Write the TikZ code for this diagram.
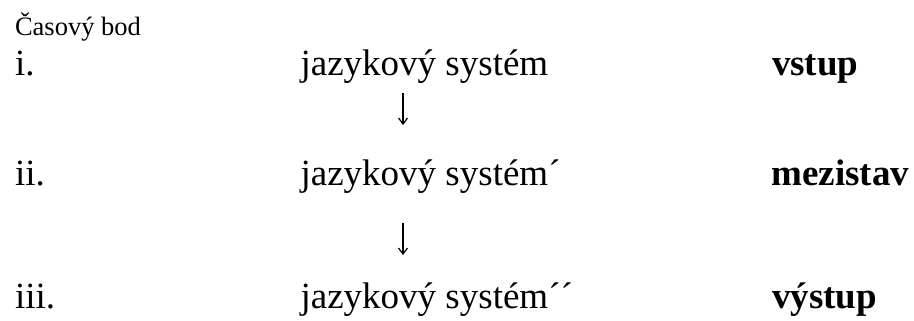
\documentclass[tikz,border=0pt]{standalone}
\usepackage{fontspec}
\setmainfont{Liberation Serif}
\usetikzlibrary{arrows.meta}
\tikzset{
  txt/.style={anchor=base west, inner sep=0pt, outer sep=0pt, font=\fontsize{37bp}{44bp}\selectfont},
  bold/.style={txt, font=\fontsize{37bp}{44bp}\selectfont\bfseries},
  small/.style={anchor=base west, inner sep=0pt, outer sep=0pt, font=\fontsize{26.5bp}{32bp}\selectfont},
  downarrow/.style={line width=1.2bp, -{Straight Barb[length=6bp,width=9bp,line width=1.2bp]}}
}
\begin{document}
\begin{tikzpicture}[x=1bp,y=-1bp]
\useasboundingbox (0,0) rectangle (914,320);
\node[small] (cas) at (15,35) {Časový bod};
\node[txt] (n1) at (15,75) {i.};
\node[txt] (n2) at (15,185) {ii.};
\node[txt] (n3) at (15,308) {iii.};
\node[txt] (s1) at (300.6,75) {jazykový systém};
\node[txt] (s2) at (300.6,185) {jazykový systém´};
\node[txt] (s3) at (300.6,308) {jazykový systém´´};
\node[bold] (b1) at (772,75) {vstup};
\node[bold] (b2) at (771.4,185) {mezistav};
\node[bold] (b3) at (772,308) {výstup};
\coordinate (a1s) at (403,93);
\coordinate (a1e) at (403,125);
\coordinate (a2s) at (403,223);
\coordinate (a2e) at (403,255);
\draw[downarrow] (a1s) -- (a1e);
\draw[downarrow] (a2s) -- (a2e);
\end{tikzpicture}
\end{document}
